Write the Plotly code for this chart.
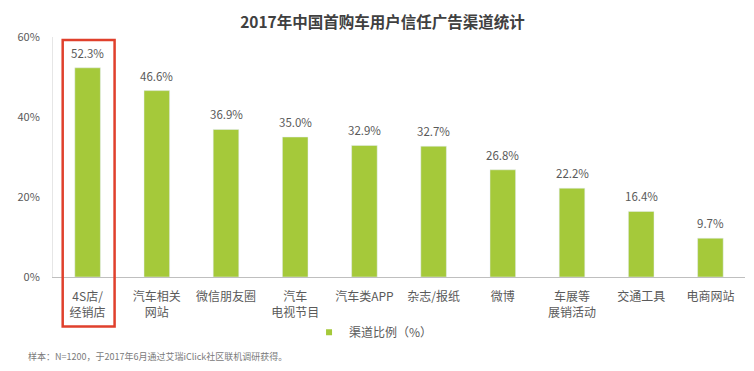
import plotly.graph_objects as go

categories = ["4S店/<br>经销店", "汽车相关<br>网站", "微信朋友圈", "汽车<br>电视节目", "汽车类APP",
              "杂志/报纸", "微博", "车展等<br>展销活动", "交通工具", "电商网站"]
values = [52.3, 46.6, 36.9, 35.0, 32.9, 32.7, 26.8, 22.2, 16.4, 9.7]
series_name = "渠道比例（%）"
y_ticks = [0, 20, 40, 60]
y_tick_labels = ["0%", "20%", "40%", "60%"]
title_text = "2017年中国首购车用户信任广告渠道统计"
note_text = "样本：N=1200，于2017年6月通过艾瑞iClick社区联机调研获得。"

FONT = "Noto Sans CJK SC"
GREEN = "#A5C93A"
GREY = "#5a5a5a"

xs = list(range(len(categories)))
n = len(categories)
fig = go.Figure()
fig.add_trace(go.Bar(
    x=xs, y=values, name=series_name, showlegend=False,
    marker_color=GREEN, width=0.37,
))
# legend entry with small square marker
fig.add_trace(go.Scatter(
    x=[None], y=[None], mode="markers", name=series_name,
    marker=dict(symbol="square", size=6, color=GREEN),
))
for x, v in zip(xs, values):
    fig.add_annotation(x=x, y=v, text=f"{v:.1f}%", showarrow=False, yanchor="bottom",
                       yshift=5, font=dict(family=FONT, size=11.5, color=GREY))

# highlight box around first category (paper coords so it is not clipped)
c0 = (0 + 0.5) / n
fig.add_shape(type="rect", xref="paper", yref="paper", x0=c0 - 0.036, x1=c0 + 0.039,
              y0=-0.206, y1=0.9875,
              line=dict(color="#E0402C", width=2.5), fillcolor="rgba(0,0,0,0)")

fig.update_layout(
    width=746, height=363,
    margin=dict(l=43, r=9, t=29, b=93.5),
    paper_bgcolor="white", plot_bgcolor="white",
    font=dict(family=FONT, color=GREY),
    showlegend=True,
    legend=dict(orientation="h", x=0.37, y=-0.17, xanchor="left", yanchor="top",
                font=dict(family=FONT, size=12, color=GREY), itemwidth=30),
    title=dict(text=f"<b>{title_text}</b>", x=0.502, xanchor="center", y=0.961, yanchor="middle",
               font=dict(family=FONT, size=15.5, color="#404040")),
)
fig.update_xaxes(tickmode="array", tickvals=xs, ticktext=categories,
                 range=[-0.5, n - 0.5], showline=True, linecolor="#bfbfbf", linewidth=1,
                 ticks="", ticklabelstandoff=9, tickfont=dict(family=FONT, size=12, color=GREY),
                 showgrid=False)
fig.update_yaxes(range=[0, 60], tickmode="array", tickvals=y_ticks, ticktext=y_tick_labels,
                 showline=True, linecolor="#e6e6e6", linewidth=1, showgrid=False, zeroline=False,
                 ticks="", ticklabelstandoff=10, tickfont=dict(family=FONT, size=11, color=GREY))
fig.add_annotation(text=note_text, xref="paper", yref="paper", x=-0.039, y=-0.33,
                   xanchor="left", yanchor="middle", showarrow=False,
                   font=dict(family=FONT, size=9, color="#7a7a7a"))
fig.write_html("out.html")
